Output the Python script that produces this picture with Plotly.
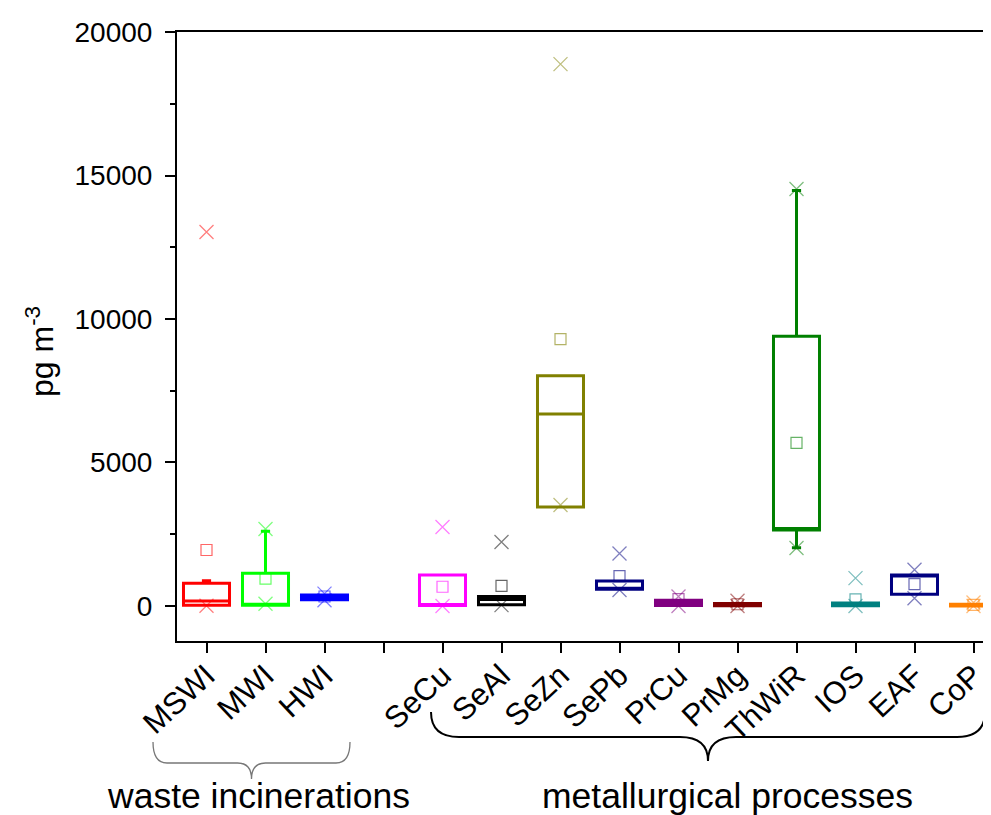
import plotly.graph_objects as go

# ---- data (pg m^-3) ----
categories = ["MSWI", "MWI", "HWI", "", "SeCu", "SeAl", "SeZn", "SePb", "PrCu", "PrMg", "ThWiR", "IOS", "EAF", "CoP"]
positions = [1, 2, 3, 5, 6, 7, 8, 9, 10, 11, 12, 13, 14]
names = ["MSWI", "MWI", "HWI", "SeCu", "SeAl", "SeZn", "SePb", "PrCu", "PrMg", "ThWiR", "IOS", "EAF", "CoP"]
q1 = [30, 30, 220, 20, 40, 3450, 580, 20, 10, 2650, 10, 410, 0]
median = [170, 50, 300, 50, 230, 6690, 620, 100, 50, 2700, 60, 1060, 20]
q3 = [790, 1140, 380, 1080, 330, 8020, 870, 200, 90, 9400, 100, 1080, 60]
lower_whisker = [30, 30, 220, 20, 40, 3450, 580, 20, 10, 2030, 10, 410, 0]
upper_whisker = [880, 2600, 380, 1080, 330, 8020, 870, 200, 90, 14480, 100, 1080, 60]
mean = [1950, 950, 330, 670, 700, 9300, 1040, 240, 60, 5680, 230, 760, 40]
minimum = [10, 80, 200, 0, 30, 3520, 560, 0, 0, 2020, 0, 270, 0]
maximum = [13030, 2680, 430, 2750, 2230, 18880, 1830, 330, 180, 14530, 970, 1260, 120]
colors = ["#FF0000", "#00FF00", "#0000FF", "#FF00FF", "#000000", "#808000", "#000080",
          "#800080", "#800000", "#008000", "#008080", "#000080", "#FF8000"]

FONT = "Liberation Sans, Arial, sans-serif"
OFF = 8  # page body margin
W, H = 991 - OFF, 815 - OFF
L, R, T, B = 177 - OFF, 0, 32 - OFF, 174
pw, ph = W - L - R, H - T - B


def rgba(hexc, a):
    h = hexc.lstrip("#")
    return "rgba(%d,%d,%d,%.2f)" % (int(h[0:2], 16), int(h[2:4], 16), int(h[4:6], 16), a)


fig = go.Figure()
for i, n in enumerate(names):
    fig.add_trace(go.Box(
        x=[positions[i]], q1=[q1[i]], median=[median[i]], q3=[q3[i]],
        lowerfence=[lower_whisker[i]], upperfence=[upper_whisker[i]],
        name=n, width=0.78, whiskerwidth=0.2,
        line=dict(color=colors[i], width=3), fillcolor="rgba(0,0,0,0)",
        boxpoints=False, hoverinfo="skip", showlegend=False))

fig.add_trace(go.Scatter(
    x=positions, y=mean, mode="markers", showlegend=False, hoverinfo="skip",
    marker=dict(symbol="square-open", size=11, color=[rgba(c, 0.6) for c in colors], line=dict(width=1.2))))
fig.add_trace(go.Scatter(
    x=positions + positions, y=minimum + maximum, mode="markers", showlegend=False, hoverinfo="skip",
    marker=dict(symbol="x-thin-open", size=14, color=[rgba(c, 0.5) for c in colors] * 2, line=dict(width=1.3))))


def px(x):
    return (x - OFF - L) / pw


def py(y):
    return (H - B - (y - OFF)) / ph


def brace(x0, x1, ytop, ymid, ypt, r):
    xm = (x0 + x1) / 2
    pts = [
        ("M", [(x0, ytop)]),
        ("Q", [(x0, ymid), (x0 + r, ymid)]),
        ("L", [(xm - r, ymid)]),
        ("Q", [(xm, ymid), (xm, ypt)]),
        ("Q", [(xm, ymid), (xm + r, ymid)]),
        ("L", [(x1 - r, ymid)]),
        ("Q", [(x1, ymid), (x1, ytop)]),
    ]
    s = ""
    for cmd, p in pts:
        s += cmd + " " + " ".join("%.5f,%.5f" % (px(a), py(b)) for a, b in p) + " "
    return s.strip()


shapes = [
    dict(type="path", xref="paper", yref="paper", path=brace(153, 350, 742, 763, 779, 14),
         line=dict(color="#777777", width=1.3)),
    dict(type="path", xref="paper", yref="paper", path=brace(431, 985, 712, 737, 761, 28),
         line=dict(color="#000000", width=2)),
]

annotations = [
    dict(text="pg m<sup>-3</sup>", xref="paper", yref="paper", x=px(40), y=py(352), textangle=-90,
         showarrow=False, font=dict(family=FONT, size=32, color="black"), xanchor="center", yanchor="middle"),
    dict(text="waste incinerations", xref="paper", yref="paper", x=px(258), y=py(796),
         showarrow=False, font=dict(family=FONT, size=35.5, color="black"), xanchor="center", yanchor="middle"),
    dict(text="metallurgical processes", xref="paper", yref="paper", x=px(727), y=py(796),
         showarrow=False, font=dict(family=FONT, size=35.5, color="black"), xanchor="center", yanchor="middle"),
]

fig.update_layout(
    width=W, height=H, margin=dict(l=L, r=R, t=T, b=B, pad=0),
    plot_bgcolor="white", paper_bgcolor="white",
    font=dict(family=FONT, color="black"),
    shapes=shapes, annotations=annotations,
    xaxis=dict(range=[0.5, 0.5 + pw / 59.0], tickvals=list(range(1, 15)), ticktext=categories,
               tickangle=-43, ticks="outside", ticklen=10, tickwidth=1.5, tickcolor="black",
               ticklabelstandoff=-8,
               showline=True, linewidth=2, linecolor="black", mirror=True,
               showgrid=False, zeroline=False, tickfont=dict(size=31, family=FONT, color="black")),
    yaxis=dict(range=[-1220, 20000], tickvals=[0, 5000, 10000, 15000, 20000], tickformat="d",
               ticks="outside", ticklen=10, tickwidth=1.5, tickcolor="black", ticklabelstandoff=7,
               minor=dict(tick0=0, dtick=2500, ticks="outside", ticklen=5, tickwidth=1.5, tickcolor="black"),
               showline=True, linewidth=2, linecolor="black",
               showgrid=False, zeroline=False, tickfont=dict(size=28, family=FONT, color="black")),
)

fig.write_html("out.html")
